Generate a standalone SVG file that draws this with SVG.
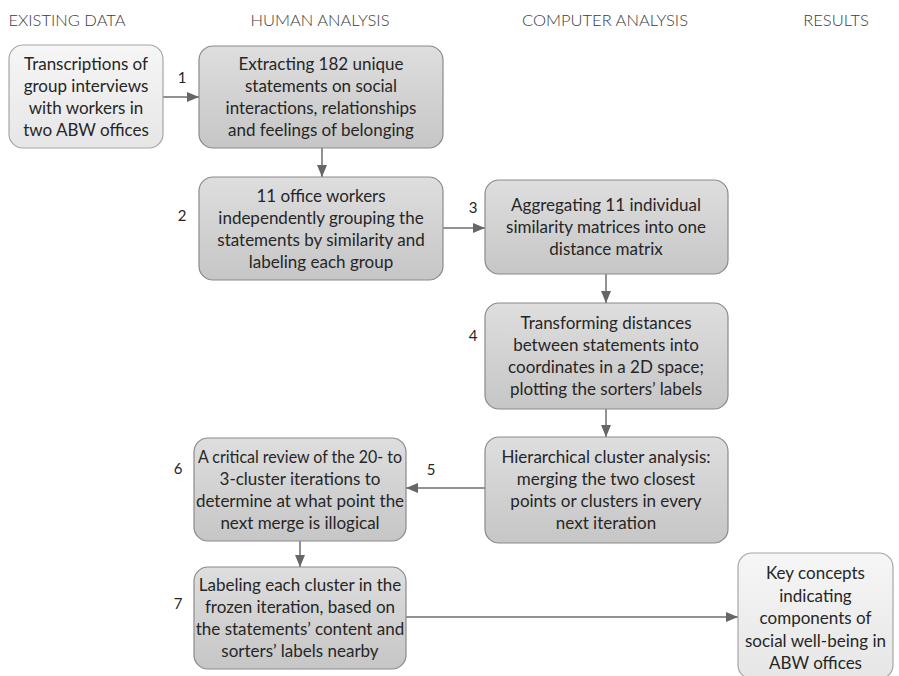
<svg xmlns="http://www.w3.org/2000/svg" width="899" height="676" viewBox="0 0 899 676">
<defs>
<linearGradient id="gd" x1="0" y1="0" x2="0" y2="1"><stop offset="0" stop-color="#dedede"/><stop offset="1" stop-color="#c6c6c6"/></linearGradient>
<linearGradient id="gl" x1="0" y1="0" x2="0" y2="1"><stop offset="0" stop-color="#f6f6f6"/><stop offset="1" stop-color="#e6e6e6"/></linearGradient>
<marker id="ah" viewBox="0 0 12 10" refX="12" refY="5" markerWidth="12" markerHeight="10" markerUnits="userSpaceOnUse" orient="auto"><path d="M0,0 L12,5 L0,10 Z" fill="#666"/></marker>
<style>
.hd{font-family:Lato,"Open Sans",sans-serif;font-size:16.5px;font-weight:300;fill:#3c3c3c;text-anchor:middle}
.t{font-family:Lato,"Open Sans",sans-serif;font-size:17px;fill:#262626;text-anchor:middle}
.n{font-family:Lato,"Open Sans",sans-serif;font-size:15px;fill:#262626;text-anchor:middle}
.dk{fill:url(#gd);stroke:#8a8a8a;stroke-width:1.2}
.lt{fill:url(#gl);stroke:#a6a6a6;stroke-width:1.2}
.c{stroke:#6e6e6e;stroke-width:1.5;fill:none;marker-end:url(#ah)}
</style>
</defs>
<g id="headers">
<text class="hd" x="67" y="26">EXISTING DATA</text>
<text class="hd" x="320" y="26">HUMAN ANALYSIS</text>
<text class="hd" x="605" y="26">COMPUTER ANALYSIS</text>
<text class="hd" x="836" y="26">RESULTS</text>
</g>
<g id="connectors">
<line class="c" x1="163" y1="97" x2="199" y2="97"/>
<line class="c" x1="322" y1="148" x2="322" y2="177"/>
<line class="c" x1="443" y1="228" x2="485" y2="228"/>
<line class="c" x1="606" y1="274" x2="606" y2="303"/>
<line class="c" x1="606" y1="409" x2="606" y2="437"/>
<line class="c" x1="485" y1="488" x2="406" y2="488"/>
<line class="c" x1="300" y1="541" x2="300" y2="567"/>
<line class="c" x1="406" y1="617" x2="738" y2="617"/>
<text class="n" x="182" y="83">1</text>
<text class="n" x="182" y="221">2</text>
<text class="n" x="473" y="213">3</text>
<text class="n" x="473" y="341">4</text>
<text class="n" x="431" y="475">5</text>
<text class="n" x="178" y="474">6</text>
<text class="n" x="178" y="609">7</text>
</g>
<g id="n0">
<rect class="lt" x="9" y="45" width="154" height="103" rx="14"/>
<text class="t" x="86" y="69.5">Transcriptions of</text>
<text class="t" x="86" y="91.5">group interviews</text>
<text class="t" x="86" y="113.5">with workers in</text>
<text class="t" x="86" y="135.5">two ABW offices</text>
</g>
<g id="n1">
<rect class="dk" x="199" y="46" width="244" height="102" rx="14"/>
<text class="t" x="321" y="70">Extracting 182 unique</text>
<text class="t" x="321" y="92">statements on social</text>
<text class="t" x="321" y="114">interactions, relationships</text>
<text class="t" x="321" y="136">and feelings of belonging</text>
</g>
<g id="n2">
<rect class="dk" x="199" y="177" width="244" height="103" rx="14"/>
<text class="t" x="321" y="201.5">11 office workers</text>
<text class="t" x="321" y="223.5">independently grouping the</text>
<text class="t" x="321" y="245.5">statements by similarity and</text>
<text class="t" x="321" y="267.5">labeling each group</text>
</g>
<g id="n3">
<rect class="dk" x="485" y="180" width="243" height="94" rx="14"/>
<text class="t" x="606" y="211">Aggregating 11 individual</text>
<text class="t" x="606" y="233">similarity matrices into one</text>
<text class="t" x="606" y="255">distance matrix</text>
</g>
<g id="n4">
<rect class="dk" x="485" y="303" width="243" height="106" rx="14"/>
<text class="t" x="606" y="329">Transforming distances</text>
<text class="t" x="606" y="351">between statements into</text>
<text class="t" x="606" y="373">coordinates in a 2D space;</text>
<text class="t" x="606" y="395">plotting the sorters’ labels</text>
</g>
<g id="n5">
<rect class="dk" x="485" y="437" width="243" height="106" rx="14"/>
<text class="t" x="606" y="463">Hierarchical cluster analysis:</text>
<text class="t" x="606" y="485">merging the two closest</text>
<text class="t" x="606" y="507">points or clusters in every</text>
<text class="t" x="606" y="529">next iteration</text>
</g>
<g id="n6">
<rect class="dk" x="194" y="438" width="212" height="103" rx="14"/>
<text class="t" x="300" y="462.5" textLength="204" lengthAdjust="spacingAndGlyphs">A critical review of the 20- to</text>
<text class="t" x="300" y="484.5">3-cluster iterations to</text>
<text class="t" x="300" y="506.5">determine at what point the</text>
<text class="t" x="300" y="528.5">next merge is illogical</text>
</g>
<g id="n7">
<rect class="dk" x="194" y="567" width="212" height="102" rx="14"/>
<text class="t" x="300" y="591">Labeling each cluster in the</text>
<text class="t" x="300" y="613">frozen iteration, based on</text>
<text class="t" x="300" y="635">the statements’ content and</text>
<text class="t" x="300" y="657">sorters’ labels nearby</text>
</g>
<g id="n8">
<rect class="lt" x="738" y="553" width="155" height="126" rx="14"/>
<text class="t" x="815.5" y="579">Key concepts</text>
<text class="t" x="815.5" y="601.5">indicating</text>
<text class="t" x="815.5" y="624">components of</text>
<text class="t" x="815.5" y="646.5">social well-being in</text>
<text class="t" x="815.5" y="669">ABW offices</text>
</g>
</svg>
